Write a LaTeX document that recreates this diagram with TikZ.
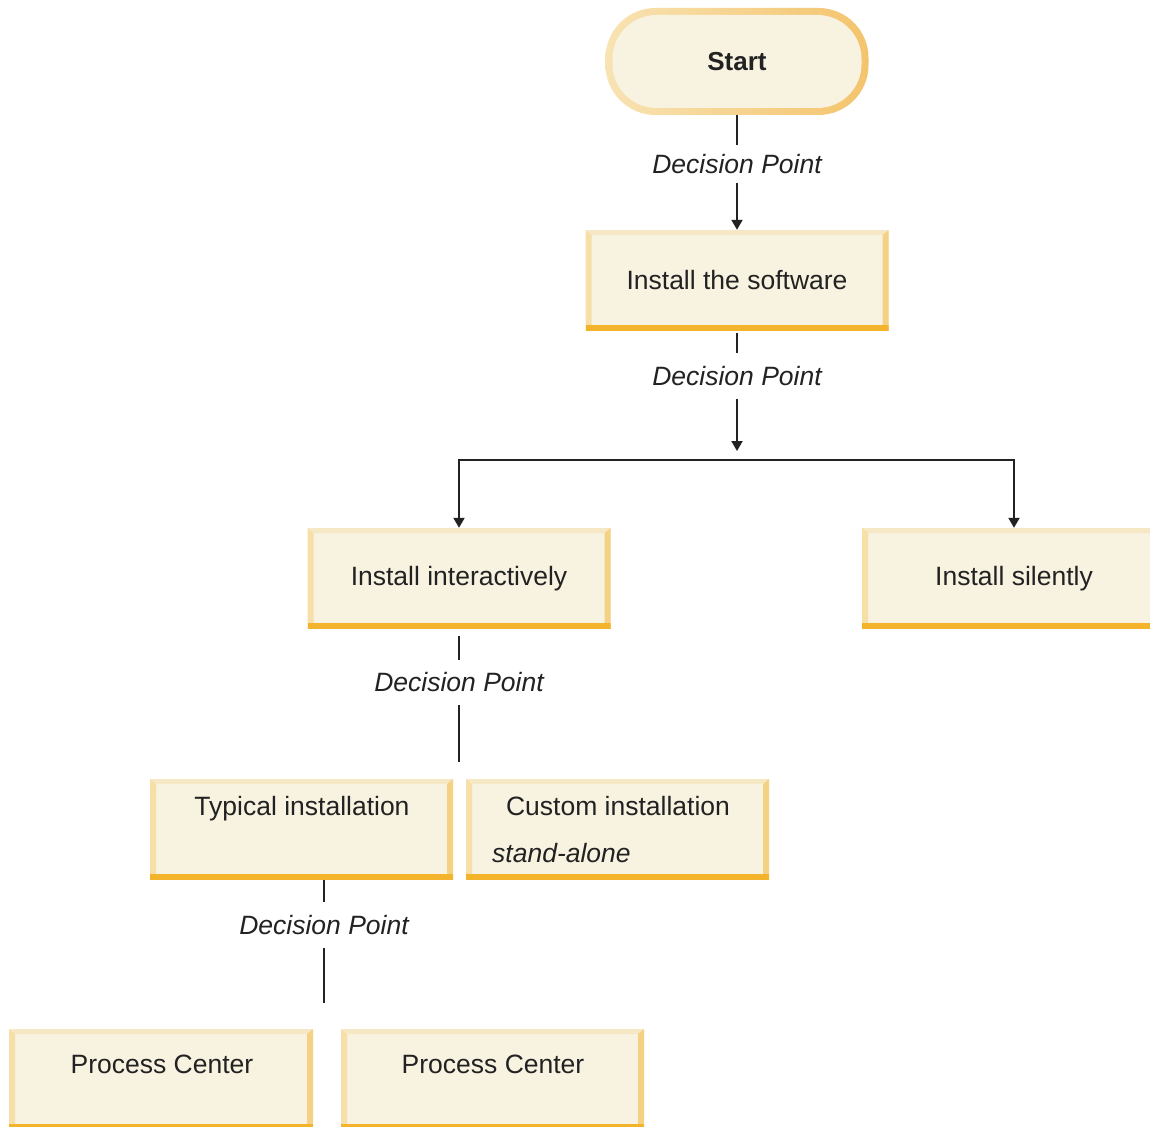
\documentclass[tikz,border=0pt]{standalone}
\usepackage{fontspec}
\setmainfont{Liberation Sans}
\usetikzlibrary{arrows.meta}
\definecolor{boxfill}{HTML}{F8F2E0}
\definecolor{bvtop}{HTML}{F6E8C5}
\definecolor{bvleft}{HTML}{F7E0A8}
\definecolor{bvright}{HTML}{F5D283}
\definecolor{bvbottom}{HTML}{F3B32A}
\definecolor{pillL}{HTML}{F8E3B3}
\definecolor{pillR}{HTML}{F4C46C}
\definecolor{ink}{HTML}{222222}
\tikzset{
  txt/.style={font=\fontsize{26.5}{30}\selectfont, text=ink, inner sep=0pt},
  lbl/.style={font=\fontsize{26.5}{30}\selectfont\itshape, text=ink, inner sep=0pt, minimum width=10pt},
  box/.style={rectangle, minimum width=303pt, minimum height=101pt, inner sep=0pt,
    fill=boxfill, font=\fontsize{26.5}{30}\selectfont, text=ink,
    path picture={
      \fill[bvtop] (path picture bounding box.north west) -- (path picture bounding box.north east)
        -- ([shift={(-6pt,-5pt)}]path picture bounding box.north east)
        -- ([shift={(6pt,-5pt)}]path picture bounding box.north west) -- cycle;
      \fill[bvleft] (path picture bounding box.north west)
        -- ([shift={(6pt,-5pt)}]path picture bounding box.north west)
        -- ([shift={(6pt,6pt)}]path picture bounding box.south west)
        -- (path picture bounding box.south west) -- cycle;
      \fill[bvright] (path picture bounding box.north east)
        -- (path picture bounding box.south east)
        -- ([shift={(-6pt,6pt)}]path picture bounding box.south east)
        -- ([shift={(-6pt,-5pt)}]path picture bounding box.north east) -- cycle;
      \fill[bvbottom] (path picture bounding box.south west) rectangle ([yshift=6pt]path picture bounding box.south east);
    }},
  pill/.style={rectangle, rounded corners=50pt, minimum width=263pt, minimum height=107pt, inner sep=0pt,
    left color=pillL, right color=pillR, font=\fontsize{26}{30}\selectfont\bfseries, text=ink,
    path picture={
      \fill[boxfill, rounded corners=44pt] ([shift={(7pt,-7pt)}]path picture bounding box.north west)
        rectangle ([shift={(-7pt,7pt)}]path picture bounding box.south east);
    }},
  conn/.style={draw=ink, line width=2pt},
  arr/.style={conn, -{Triangle[width=11pt,length=10pt]}},
}
\begin{document}
\begin{tikzpicture}[x=1pt,y=-1pt]
\clip (0,0) rectangle (1150,1126);
\fill[white] (0,0) rectangle (1150,1126);

% nodes
\node[pill] (start) at (737,61.5) {Start};
\node[box] (soft) at (737,280.5) {Install the software};
\node[box] (inter) at (459,578.5) {Install interactively};
\node[box, minimum width=304pt] (silent) at (1014,578.5) {Install silently};
\node[box] (typ) at (301.5,829.5) {};
\node[box] (cust) at (617.5,829.5) {};
\node[box, minimum width=304pt] (pc1) at (161,1079.5) {};
\node[box] (pc2) at (492.5,1079.5) {};

\node[txt, anchor=base] (typt) at (302,815) {Typical installation};
\node[txt, anchor=base] (custt) at (618,815) {Custom installation};
\node[txt, anchor=base west, font=\fontsize{26.5}{30}\selectfont\itshape] (custs) at (492,862) {stand-alone};
\node[txt, anchor=base] (pc1t) at (162,1073) {Process Center};
\node[txt, anchor=base] (pc2t) at (493,1073) {Process Center};

% decision point labels
\node[lbl, minimum height=38pt] (dp1) at (737,164) {Decision Point};
\node[lbl, minimum height=46pt] (dp2) at (737,376) {Decision Point};
\node[lbl, minimum height=45pt] (dp3) at (459,682.5) {Decision Point};
\node[lbl, minimum height=46pt] (dp4) at (324,925) {Decision Point};

\coordinate (j) at (737,451);
\coordinate (jl) at (459,460);
\coordinate (jr) at (1014,460);
\coordinate (e3) at (459,762);
\coordinate (e4) at (324,1003);

% connectors
\draw[conn] (start.south) -- (dp1.north);
\draw[arr] (dp1.south) -- (soft.north);
\draw[conn] ([yshift=-2pt]soft.south) -- (dp2.north);
\draw[arr] (dp2.south) -- (j);
\draw[conn] ([xshift=-1pt]jl) -- ([xshift=1pt]jr);
\draw[arr] (jl) -- (inter.north);
\draw[arr] (jr) -- (silent.north);
\draw[conn] ([yshift=-7pt]inter.south) -- (dp3.north);
\draw[conn] (dp3.south) -- (e3);
\draw[conn] (dp4.north |- typ.south) -- (dp4.north);
\draw[conn] (dp4.south) -- (e4);
\end{tikzpicture}
\end{document}
